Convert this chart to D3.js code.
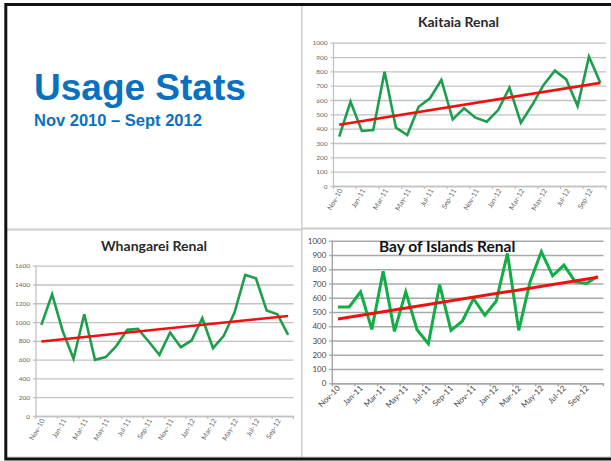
<!DOCTYPE html>
<html>
<head>
<meta charset="utf-8">
<script src="https://cdn.jsdelivr.net/npm/d3@7"></script>
<style>
    html, body { margin: 0; padding: 0; background: #fff; }
    svg { display: block; }
    .ttl { font-family: Lato, 'Open Sans', sans-serif; font-weight: bold; }
    .tick text { font-family: Lato, 'Open Sans', sans-serif; }
</style>
</head>
<body>
<svg id="slide" width="611" height="461"></svg>
<script>
    'use strict';

    // months on the category axis (every other one is labelled)
    const months = ["Nov-10", "Dec-10", "Jan-11", "Feb-11", "Mar-11", "Apr-11", "May-11", "Jun-11",
        "Jul-11", "Aug-11", "Sep-11", "Oct-11", "Nov-11", "Dec-11", "Jan-12", "Feb-12",
        "Mar-12", "Apr-12", "May-12", "Jun-12", "Jul-12", "Aug-12", "Sep-12", "Oct-12"];

    const kaitaiaValues = [345, 588, 384, 391, 798, 407, 356, 553, 612, 740, 465, 542,
        477, 449, 530, 686, 442, 565, 705, 805, 744, 558, 902, 721];
    const whangareiValues = [970, 1296, 900, 610, 1083, 598, 627, 747, 917, 927, 793, 651,
        889, 733, 804, 1041, 722, 853, 1101, 1501, 1465, 1122, 1083, 864];
    const bayValues = [535, 535, 641, 378, 786, 364, 641, 376, 277, 692, 371, 435,
        594, 477, 575, 911, 371, 711, 923, 754, 829, 711, 700, 751];

    const ticks1000 = [0, 100, 200, 300, 400, 500, 600, 700, 800, 900, 1000];
    const ticks1600 = [0, 200, 400, 600, 800, 1000, 1200, 1400, 1600];

    const svg = d3.select("#slide");

    // panels
    const panels = [
        { x: 6, y: 5, w: 296, h: 224 },
        { x: 302, y: 5, w: 309, h: 223 },
        { x: 6, y: 230, w: 296, h: 227 },
        { x: 302, y: 229, w: 309, h: 228 }
    ];
    svg.selectAll("rect.panel").data(panels).enter().append("rect")
        .attr("class", "panel")
        .attr("x", d => d.x).attr("y", d => d.y)
        .attr("width", d => d.w).attr("height", d => d.h)
        .attr("fill", "#fff").attr("stroke", "#c4c4c4").attr("stroke-width", 1);

    // outer black frame (top, left, bottom)
    svg.append("path")
        .attr("d", "M611,4.5 H5.8 V459 H611")
        .attr("fill", "none").attr("stroke", "#111").attr("stroke-width", 3);

    svg.append("text").attr("class", "ttl")
        .attr("x", 34).attr("y", 100)
        .style("font-family", "'Liberation Sans', Arial, sans-serif")
        .style("font-size", "37px").attr("fill", "#0a70c0")
        .text("Usage Stats");
    svg.append("text").attr("class", "ttl")
        .attr("x", 34).attr("y", 126)
        .style("font-family", "'Liberation Sans', Arial, sans-serif")
        .style("font-size", "16.5px").attr("fill", "#0a70c0")
        .text("Nov 2010 \u2013 Sept 2012");

    // least squares line, like the Excel linear trendline
    function linearTrend(values) {
        const mx = d3.mean(values, (v, i) => i);
        const my = d3.mean(values);
        let sxy = 0, sxx = 0;
        values.forEach((v, i) => { sxy += (i - mx) * (v - my); sxx += (i - mx) * (i - mx); });
        const b = sxy / sxx;
        return values.map((v, i) => my + b * (i - mx));
    }

    function drawChart(c) {
        const g = svg.append("g");
        const x = d3.scaleBand().domain(months).range([c.left, c.right]);
        const y = d3.scaleLinear().domain([0, c.max]).range([c.bottom, c.top]);
        const cx = m => x(m) + x.bandwidth() / 2;

        // gridlines + y labels
        const yAxis = g.append("g")
            .attr("transform", `translate(${c.left},0)`)
            .call(d3.axisLeft(y).tickValues(c.ticks).tickFormat(d3.format("d"))
                .tickSize(-(c.right - c.left)).tickPadding(6));
        yAxis.select(".domain").remove();
        yAxis.selectAll(".tick line")
            .attr("x1", -3)
            .attr("stroke", c.gridColor).attr("stroke-width", c.gridWidth);
        yAxis.selectAll(".tick text")
            .attr("fill", c.labelColor).style("font-size", c.yLabelSize + "px");

        // vertical axis line
        g.append("line")
            .attr("x1", c.left).attr("x2", c.left)
            .attr("y1", y(c.max)).attr("y2", y(0))
            .attr("stroke", c.gridColor).attr("stroke-width", c.gridWidth);

        // category axis
        const labelled = months.filter((m, i) => i % 2 === 0);
        const xAxis = g.append("g")
            .attr("transform", `translate(0,${y(0)})`)
            .call(d3.axisBottom(x).tickValues(labelled).tickSize(0).tickSizeOuter(0));
        xAxis.select(".domain").attr("stroke", c.gridColor).attr("stroke-width", c.gridWidth);
        xAxis.selectAll(".tick text")
            .attr("fill", c.labelColor).style("font-size", c.xLabelSize + "px")
            .style("text-anchor", "end")
            .attr("x", -2).attr("y", 3).attr("dy", "0.35em")
            .attr("transform", `rotate(${c.rotate})`);
        g.selectAll("line.xtick").data(labelled.concat([null])).enter().append("line")
            .attr("class", "xtick")
            .attr("x1", d => d === null ? c.right : x(d))
            .attr("x2", d => d === null ? c.right : x(d))
            .attr("y1", y(0)).attr("y2", y(0) + 3)
            .attr("stroke", c.gridColor).attr("stroke-width", c.gridWidth);

        // data line
        const line = d3.line().x((d, i) => cx(months[i])).y(d => y(d));
        g.append("path")
            .attr("d", line(c.values))
            .attr("fill", "none").attr("stroke", c.lineColor)
            .attr("stroke-width", c.lineWidth).attr("stroke-linejoin", "miter");

        // linear trend
        const trend = linearTrend(c.values);
        g.append("line")
            .attr("x1", cx(months[0])).attr("y1", y(trend[0]))
            .attr("x2", cx(months[months.length - 1])).attr("y2", y(trend[trend.length - 1]))
            .attr("stroke", "#f01010").attr("stroke-width", c.trendWidth);

        g.append("text").attr("class", "ttl")
            .attr("x", c.titleX).attr("y", c.titleY)
            .attr("text-anchor", c.titleAnchor)
            .style("font-size", c.titleSize + "px").attr("fill", c.titleColor)
            .text(c.title);
    }

    drawChart({
        values: kaitaiaValues, ticks: ticks1000, max: 1000,
        left: 333.5, right: 606, top: 42.7, bottom: 186,
        gridColor: "#c2c2c2", gridWidth: 1.3, labelColor: "#666",
        yLabelSize: 6.5, xLabelSize: 7, rotate: -60,
        lineColor: "#1e9e4c", lineWidth: 2.6, trendWidth: 2.6,
        title: "Kaitaia Renal", titleX: 458.5, titleY: 27, titleAnchor: "middle",
        titleSize: 14, titleColor: "#2a2a2a"
    });

    drawChart({
        values: whangareiValues, ticks: ticks1600, max: 1600,
        left: 36, right: 293.5, top: 265.7, bottom: 416,
        gridColor: "#c2c2c2", gridWidth: 1.3, labelColor: "#666",
        yLabelSize: 6.5, xLabelSize: 7, rotate: -60,
        lineColor: "#1e9e4c", lineWidth: 2.6, trendWidth: 2.6,
        title: "Whangarei Renal", titleX: 154, titleY: 251, titleAnchor: "middle",
        titleSize: 14, titleColor: "#2a2a2a"
    });

    drawChart({
        values: bayValues, ticks: ticks1000, max: 1000,
        left: 332.3, right: 603.5, top: 240.7, bottom: 383.3,
        gridColor: "#a8a8a8", gridWidth: 1.5, labelColor: "#444",
        yLabelSize: 8, xLabelSize: 8, rotate: -45,
        lineColor: "#12ad45", lineWidth: 3, trendWidth: 3,
        title: "Bay of Islands Renal", titleX: 379, titleY: 252, titleAnchor: "start",
        titleSize: 15.5, titleColor: "#111"
    });
</script>
</body>
</html>
